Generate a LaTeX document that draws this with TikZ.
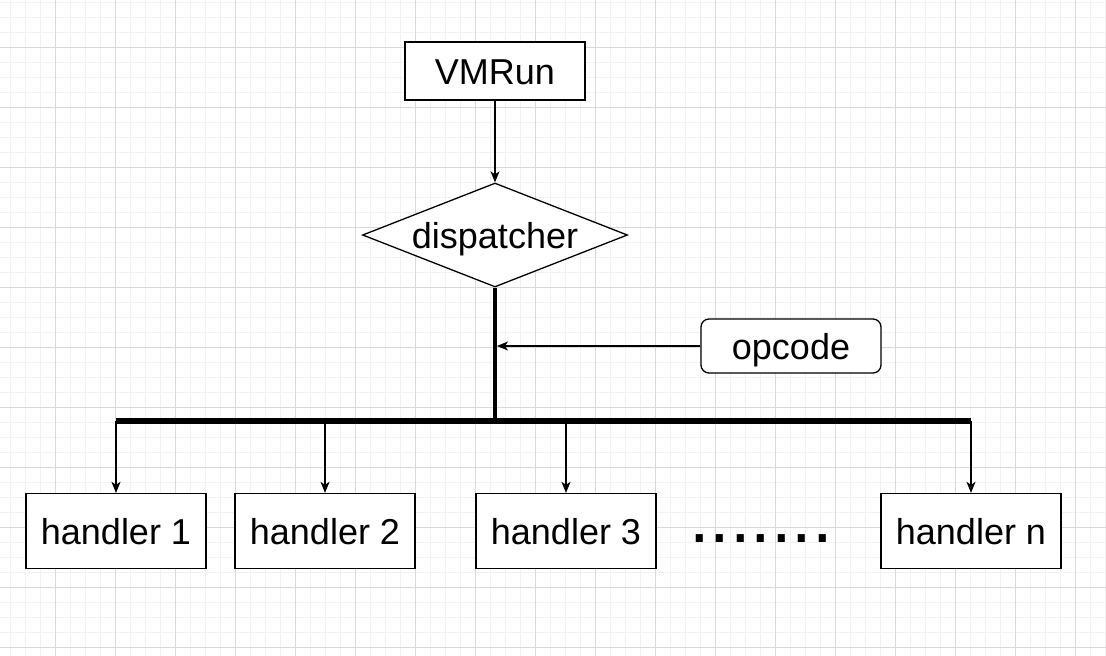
\documentclass[tikz,border=0pt]{standalone}
\usepackage{fontspec}
\setmainfont{Liberation Sans}
\usetikzlibrary{arrows.meta,shapes.geometric}
\begin{document}
\begin{tikzpicture}[x=1pt,y=-1pt,
  minorline/.style={draw=black!5,line width=0.8pt},
  majorline/.style={draw=black!15,line width=0.9pt},
  box/.style={draw,line width=1.3pt,fill=white,minimum width=180pt,minimum height=75pt,
    text height=26pt,text depth=0pt,font=\fontsize{36}{42}\selectfont},
  link/.style={line width=1.3pt,-{Stealth[length=11pt,width=9pt,inset=3pt]}}]

\useasboundingbox (0,0) rectangle (1106,656);
% grid
\foreach \x in {10,25,...,1105} \draw[minorline] (\x,0) -- (\x,656);
\foreach \y in {2,17,...,655} \draw[minorline] (0,\y) -- (1106,\y);
\foreach \x in {55,115,...,1075} \draw[majorline] (\x,0) -- (\x,656);
\foreach \y in {47,107,...,647} \draw[majorline] (0,\y) -- (1106,\y);

\node[box,minimum height=58pt] (vmrun) at (495,71) {VMRun};
\node[box,diamond,shape aspect=2.55,inner sep=0pt,minimum width=265pt,minimum height=104pt] (disp) at (495,235) {dispatcher};
\node[box,rounded corners=8pt,minimum height=54pt] (opcode) at (791,346) {opcode};
\node[box] (h1) at (116,531) {handler 1};
\node[box] (h2) at (325,531) {handler 2};
\node[box] (h3) at (566,531) {handler 3};
\node[box] (hn) at (971,531) {handler n};
\node[inner sep=0pt,font=\fontsize{74}{80}\selectfont] (dots) at (761,539) {.......};

\coordinate (busL) at (116,421);
\coordinate (busR) at (971,421);

\draw[link] (vmrun) -- (disp);
\draw[line width=4pt] (disp.south) -- (disp.south |- busL);
\draw[line width=6pt] (busL) -- (busR);
\draw[link,shorten >=2pt] (opcode.west) -- (disp.south |- opcode.west);
\foreach \h in {h1,h2,h3,hn}
  \draw[link] (\h.north |- busL) -- (\h.north);

\end{tikzpicture}
\end{document}
